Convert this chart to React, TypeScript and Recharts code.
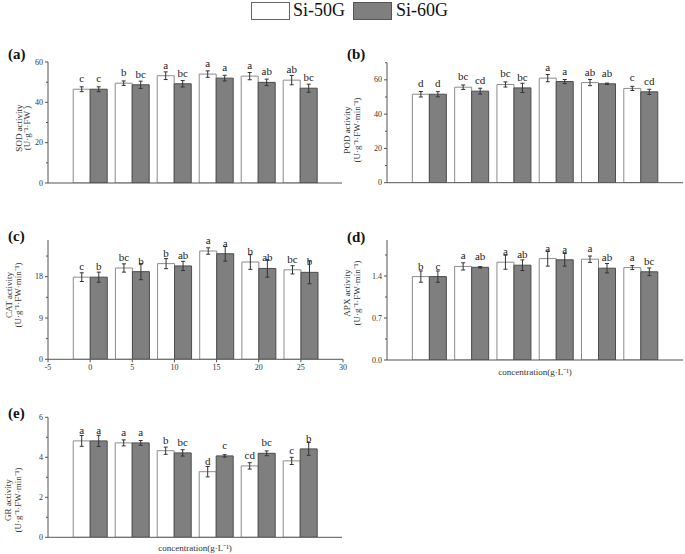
import React from "react";
import { BarChart, Bar, XAxis, YAxis, ErrorBar, LabelList } from "recharts";

// concentration (g/L) and the two cultivars
const concentrations = [0, 5, 10, 15, 20, 25];
const xTicks = [-5, 0, 5, 10, 15, 20, 25, 30];

const sod50 = [46.5, 49.5, 53.2, 54.0, 53.0, 51.0];
const sod60 = [46.5, 48.7, 49.2, 52.0, 49.9, 47.0];
const sod50Err = [1.2, 1.1, 1.9, 1.6, 1.8, 2.3];
const sod60Err = [1.2, 1.8, 1.6, 1.4, 1.6, 2.0];
const sodSig50 = ["c", "b", "a", "a", "a", "ab"];
const sodSig60 = ["c", "bc", "bc", "a", "ab", "bc"];

const pod50 = [51.6, 55.7, 57.3, 61.0, 58.4, 55.0];
const pod60 = [51.6, 53.4, 55.3, 59.0, 57.7, 53.0];
const pod50Err = [1.6, 1.3, 1.5, 2.1, 1.8, 1.2];
const pod60Err = [1.5, 1.7, 2.7, 1.2, 0.4, 1.5];
const podSig50 = ["d", "bc", "bc", "a", "ab", "c"];
const podSig60 = ["d", "cd", "bc", "a", "ab", "cd"];

const cat50 = [17.9, 19.9, 20.85, 23.6, 21.2, 19.5];
const cat60 = [17.9, 19.1, 20.35, 23.0, 19.8, 18.95];
const cat50Err = [0.95, 0.9, 1.1, 0.7, 1.6, 0.9];
const cat60Err = [1.1, 1.75, 1.0, 1.6, 1.9, 2.5];
const catSig50 = ["c", "bc", "b", "a", "b", "bc"];
const catSig60 = ["b", "b", "ab", "a", "ab", "b"];

const apx50 = [1.39, 1.56, 1.63, 1.69, 1.68, 1.54];
const apx60 = [1.39, 1.545, 1.58, 1.67, 1.53, 1.47];
const apx50Err = [0.094, 0.06, 0.117, 0.125, 0.053, 0.033];
const apx60Err = [0.094, 0.012, 0.089, 0.105, 0.078, 0.064];
const apxSig50 = ["b", "a", "a", "a", "a", "a"];
const apxSig60 = ["c", "ab", "ab", "a", "ab", "bc"];

const gr50 = [4.82, 4.72, 4.33, 3.28, 3.57, 3.82];
const gr60 = [4.82, 4.72, 4.22, 4.07, 4.2, 4.42];
const gr50Err = [0.27, 0.15, 0.18, 0.26, 0.16, 0.18];
const gr60Err = [0.28, 0.12, 0.16, 0.06, 0.12, 0.32];
const grSig50 = ["a", "a", "b", "d", "cd", "c"];
const grSig60 = ["a", "a", "bc", "c", "bc", "b"];

const font = '"Liberation Serif", "Times New Roman", serif';
const axisColor = "#555";
const textColor = "#333";

const buildRows = (
  v50: number[], v60: number[], e50: number[], e60: number[], s50: string[], s60: string[]
) =>
  concentrations.map((x, i) => ({
    x, v50: v50[i], v60: v60[i], e50: e50[i], e60: e60[i], s50: s50[i], s60: s60[i],
  }));

type Box = { l: number; t: number; r: number; b: number };

type PanelProps = {
  left: number; top: number; width: number; height: number;
  box: Box;
  rows: any[];
  domain: [number, number];
  yTicks: number[];
  yMajor: number[];
  digits: number;
  tag: string;
  tagPos: [number, number];
  title: string[];
  titleX: [number, number];
  titleY: number;
  showXTicks?: boolean;
  xTitle?: string;
  xTitleY?: number;
  xHeight: number;
};

function Panel(p: PanelProps) {
  const yW = 30;
  const margin = {
    left: p.box.l - p.left - yW,
    top: p.box.t - p.top,
    right: p.left + p.width - p.box.r,
    bottom: p.top + p.height - p.box.b - p.xHeight,
  };
  const rx = (x: number) => x - p.left;
  const ry = (y: number) => y - p.top;
  const axisX = rx(p.box.l);

  // major ticks get a label, minor ones only a short mark
  const yTick = (props: any) => {
    const { y, payload } = props;
    const major = p.yMajor.includes(payload.value);
    return (
      <g>
        <line x1={axisX - (major ? 3 : 2)} x2={axisX} y1={y} y2={y} stroke={axisColor} strokeWidth={1} />
        {major && (
          <text x={axisX - 5} y={y} dy="0.32em" textAnchor="end" fontSize={8} fill={textColor} fontFamily={font}>
            {payload.value.toFixed(p.digits)}
          </text>
        )}
      </g>
    );
  };

  const yTexts = () => (
    <g fontFamily={font} fill={textColor}>
      <text x={rx(p.tagPos[0])} y={ry(p.tagPos[1])} fontSize={15} fontWeight="bold" fill="#111">
        {p.tag}
      </text>
      {p.title.map((line, i) => (
        <text
          key={i}
          transform={`translate(${rx(p.titleX[i])},${ry(p.titleY)}) rotate(-90)`}
          textAnchor="middle"
          dy="0.35em"
          fontSize={9}
        >
          {line}
        </text>
      ))}
    </g>
  );

  const xText = () => (
    <text
      x={(rx(p.box.l) + rx(p.box.r)) / 2}
      y={ry(p.xTitleY || 0)}
      dy="0.35em"
      textAnchor="middle"
      fontSize={9}
      fill={textColor}
      fontFamily={font}
    >
      {p.xTitle}
    </text>
  );

  return (
    <div style={{ position: "absolute", left: p.left, top: p.top }}>
      <BarChart
        width={p.width}
        height={p.height}
        data={p.rows}
        margin={margin}
        barGap={0}
        barCategoryGap="10%"
      >
        <XAxis
          dataKey="x"
          type="number"
          domain={[-5, 30]}
          ticks={xTicks}
          interval={0}
          allowDataOverflow
          height={p.xHeight}
          stroke={axisColor}
          tickLine={!!p.showXTicks}
          tickSize={3}
          tickMargin={2}
          tick={p.showXTicks ? { fontSize: 8, fill: textColor, fontFamily: font } : false}
          label={p.xTitle ? { content: xText } : undefined}
        />
        <YAxis
          type="number"
          domain={p.domain}
          ticks={p.yTicks}
          interval={0}
          allowDataOverflow
          width={yW}
          stroke={axisColor}
          tickLine={false}
          tick={yTick}
          label={{ content: yTexts }}
        />
        <Bar dataKey="v50" fill="#ffffff" stroke="#8c8c8c" strokeWidth={1} isAnimationActive={false}>
          <ErrorBar dataKey="e50" width={2} stroke="#333" strokeWidth={1} />
          <LabelList dataKey="s50" position="top" offset={7} fontSize={11} fill="#222" fontFamily={font} />
        </Bar>
        <Bar dataKey="v60" fill="#7f7f7f" stroke="#4d4d4d" strokeWidth={1} isAnimationActive={false}>
          <ErrorBar dataKey="e60" width={2} stroke="#333" strokeWidth={1} />
          <LabelList dataKey="s60" position="top" offset={7} fontSize={11} fill="#222" fontFamily={font} />
        </Bar>
      </BarChart>
    </div>
  );
}

const legendText: React.CSSProperties = {
  position: "absolute",
  top: 0,
  fontSize: 18,
  lineHeight: "21px",
  fontFamily: font,
  color: "#111",
};

export default function App() {
  return (
    <div style={{ position: "absolute", left: 0, top: 0, width: 685, height: 554, background: "#fff" }}>
      <div style={{ position: "absolute", left: 251, top: 2, width: 37, height: 16, border: "1px solid #666", background: "#fff" }} />
      <div style={{ ...legendText, left: 293 }}>Si-50G</div>
      <div style={{ position: "absolute", left: 353, top: 2, width: 37, height: 16, border: "1px solid #555", background: "#7f7f7f" }} />
      <div style={{ ...legendText, left: 396 }}>Si-60G</div>

      <Panel
        left={0} top={40} width={345} height={150}
        box={{ l: 48, t: 62, r: 342, b: 183 }}
        rows={buildRows(sod50, sod60, sod50Err, sod60Err, sodSig50, sodSig60)}
        domain={[0, 60]}
        yTicks={[0, 10, 20, 30, 40, 50, 60]}
        yMajor={[0, 20, 40, 60]}
        digits={0}
        tag="(a)" tagPos={[8, 59]}
        title={["SOD activity", "(U·g⁻¹·FW )"]} titleX={[18.5, 27]} titleY={128}
        xHeight={2}
      />
      <Panel
        left={340} top={40} width={345} height={150}
        box={{ l: 387, t: 62.7, r: 683, b: 182.7 }}
        rows={buildRows(pod50, pod60, pod50Err, pod60Err, podSig50, podSig60)}
        domain={[0, 70]}
        yTicks={[0, 10, 20, 30, 40, 50, 60, 70]}
        yMajor={[0, 20, 40, 60]}
        digits={0}
        tag="(b)" tagPos={[347, 59]}
        title={["POD activity", "(U·g⁻¹·FW·min⁻¹)"]} titleX={[347.3, 357]} titleY={130}
        xHeight={2}
      />
      <Panel
        left={0} top={220} width={358} height={160}
        box={{ l: 48, t: 240, r: 343, b: 359.3 }}
        rows={buildRows(cat50, cat60, cat50Err, cat60Err, catSig50, catSig60)}
        domain={[0, 26]}
        yTicks={[0, 4.5, 9, 13.5, 18, 22.5]}
        yMajor={[0, 9, 18]}
        digits={0}
        tag="(c)" tagPos={[8, 241]}
        title={["CAT activity", "(U·g⁻¹·FW·min⁻¹)"]} titleX={[8.5, 18]} titleY={295}
        showXTicks
        xHeight={16}
      />
      <Panel
        left={340} top={220} width={345} height={160}
        box={{ l: 387, t: 240, r: 683, b: 360 }}
        rows={buildRows(apx50, apx60, apx50Err, apx60Err, apxSig50, apxSig60)}
        domain={[0, 2]}
        yTicks={[0, 0.35, 0.7, 1.05, 1.4, 1.75]}
        yMajor={[0, 0.7, 1.4]}
        digits={1}
        tag="(d)" tagPos={[347, 242]}
        title={["APX activity", "(U·g⁻¹·FW·min⁻¹)"]} titleX={[347.3, 357]} titleY={293}
        xTitle="concentration(g·L⁻¹)" xTitleY={372}
        xHeight={18}
      />
      <Panel
        left={0} top={395} width={345} height={159}
        box={{ l: 48, t: 417.3, r: 342, b: 537.3 }}
        rows={buildRows(gr50, gr60, gr50Err, gr60Err, grSig50, grSig60)}
        domain={[0, 6]}
        yTicks={[0, 1, 2, 3, 4, 5, 6]}
        yMajor={[0, 2, 4, 6]}
        digits={0}
        tag="(e)" tagPos={[8, 418]}
        title={["GR activity", "(U·g⁻¹·FW·min⁻¹)"]} titleX={[7.5, 17.5]} titleY={500}
        xTitle="concentration(g·L⁻¹)" xTitleY={548}
        xHeight={16}
      />
    </div>
  );
}
